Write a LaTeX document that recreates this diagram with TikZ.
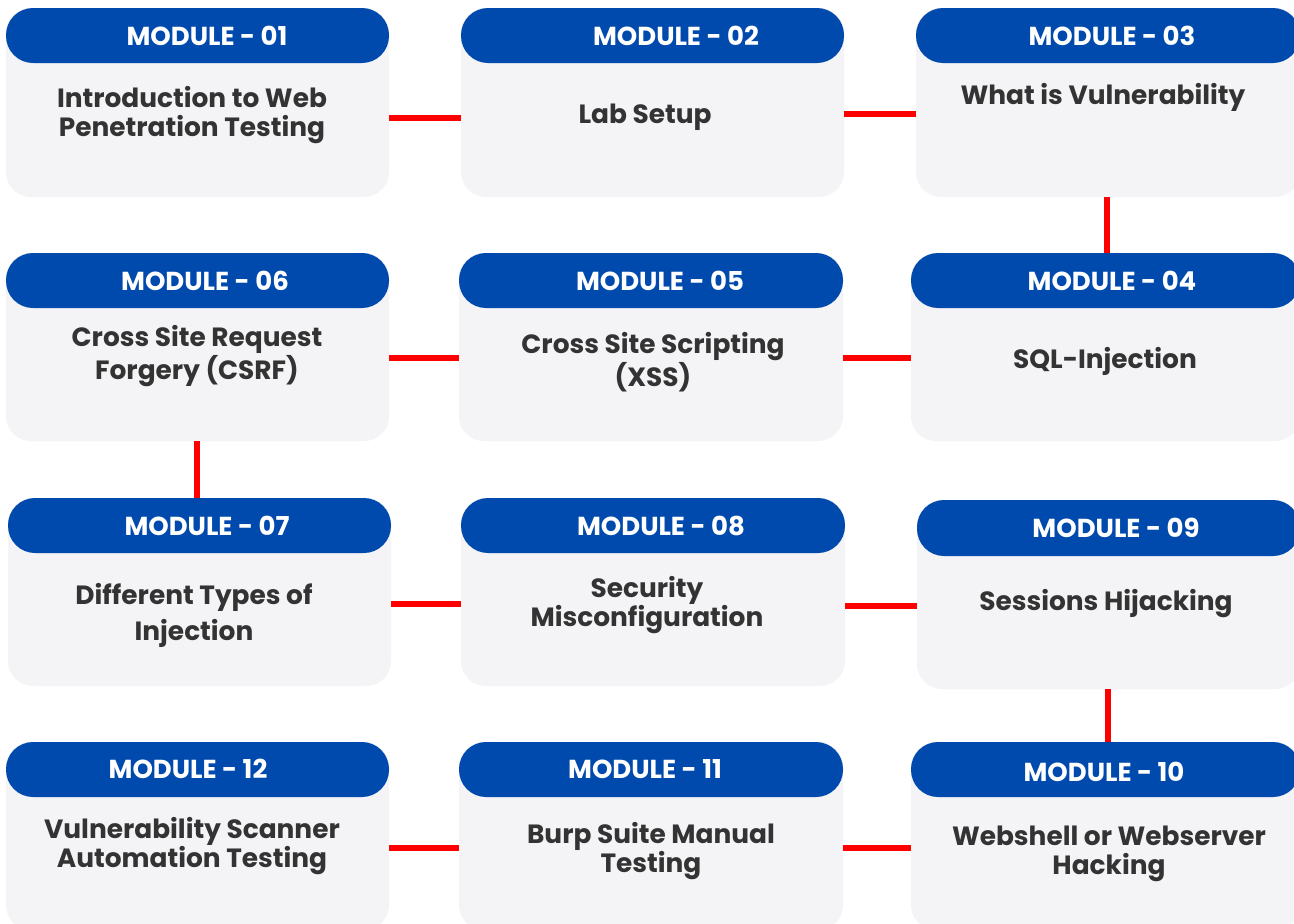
\documentclass[tikz,border=0pt]{standalone}
\usepackage{fontspec}
\setmainfont{Poppins}[BoldFont={* Bold}]
\setsansfont{Poppins}
\definecolor{hblue}{HTML}{004AAD}
\definecolor{bodyfill}{HTML}{F4F3F6}
\definecolor{txt}{HTML}{333333}
\definecolor{link}{HTML}{FF0000}
\begin{document}
\begin{tikzpicture}[x=1pt,y=-1pt,
  bodybox/.style={fill=bodyfill, rounded corners=25pt, inner sep=0pt, draw=none},
  headbox/.style={fill=hblue, rounded corners=27pt, inner sep=0pt, draw=none, minimum height=55pt},
  title/.style={text=white, font=\fontsize{26}{29}\selectfont\bfseries, inner sep=0pt},
  bodytext/.style={text=txt, font=\fontsize{26.4}{29}\selectfont\bfseries, align=center, inner sep=0pt},
  linkline/.style={draw=link, line width=6pt}]
\useasboundingbox[fill=white] (0,0) rectangle (1294,924);
% bodies
\node[bodybox, minimum width=383pt, minimum height=189pt] (m1) at (197.5,102.5) {};
\node[bodybox, minimum width=383pt, minimum height=189pt] (m2) at (652.5,102.5) {};
\node[bodybox, minimum width=384pt, minimum height=189pt] (m3) at (1108,102.5) {};
\node[bodybox, minimum width=383pt, minimum height=188pt] (m6) at (197.5,347) {};
\node[bodybox, minimum width=384pt, minimum height=188pt] (m5) at (651,347) {};
\node[bodybox, minimum width=389pt, minimum height=188pt] (m4) at (1105.5,347) {};
\node[bodybox, minimum width=383pt, minimum height=188pt] (m7) at (199.5,592) {};
\node[bodybox, minimum width=384pt, minimum height=188pt] (m8) at (653,592) {};
\node[bodybox, minimum width=383pt, minimum height=189pt] (m9) at (1108.5,594.5) {};
\node[bodybox, minimum width=383pt, minimum height=188pt] (m12) at (197.5,836) {};
\node[bodybox, minimum width=384pt, minimum height=188pt] (m11) at (651,836) {};
\node[bodybox, minimum width=389pt, minimum height=188pt] (m10) at (1105.5,836) {};
% headers
\node[headbox, minimum width=383pt, anchor=north] (h1) at (m1.north) {};
\node[headbox, minimum width=383pt, anchor=north] (h2) at (m2.north) {};
\node[headbox, minimum width=384pt, anchor=north] (h3) at (m3.north) {};
\node[headbox, minimum width=383pt, anchor=north] (h6) at (m6.north) {};
\node[headbox, minimum width=384pt, anchor=north] (h5) at (m5.north) {};
\node[headbox, minimum width=389pt, anchor=north] (h4) at (m4.north) {};
\node[headbox, minimum width=383pt, anchor=north] (h7) at (m7.north) {};
\node[headbox, minimum width=384pt, anchor=north] (h8) at (m8.north) {};
\node[headbox, minimum width=383pt, anchor=north, minimum height=56pt] (h9) at (m9.north) {};
\node[headbox, minimum width=383pt, anchor=north] (h12) at (m12.north) {};
\node[headbox, minimum width=384pt, anchor=north] (h11) at (m11.north) {};
\node[headbox, minimum width=389pt, anchor=north] (h10) at (m10.north) {};
% titles
\node[title] (t1) at (207,36) {MODULE - 01};
\node[title] (t2) at (676,36) {MODULE - 02};
\node[title] (t3) at (1112,36) {MODULE - 03};
\node[title] (t6) at (205,281) {MODULE - 06};
\node[title] (t5) at (660,281) {MODULE - 05};
\node[title] (t4) at (1112,281) {MODULE - 04};
\node[title] (t7) at (207,526) {MODULE - 07};
\node[title] (t8) at (661,526) {MODULE - 08};
\node[title] (t9) at (1116,528) {MODULE - 09};
\node[title] (t12) at (188,769) {MODULE - 12};
\node[title] (t11) at (645,769) {MODULE - 11};
\node[title] (t10) at (1104,772) {MODULE - 10};
% body texts
\node[bodytext] (b1) at (192,115) {Introduction to Web\\Penetration Testing};
\node[bodytext] (b2) at (645,117) {Lab Setup};
\node[bodytext] (b3) at (1103,97) {What is Vulnerability};
\node[bodytext] (b6) at (197,356) {Cross Site Request\\Forgery (CSRF)};
\node[bodytext] (b5) at (653,362) {Cross Site Scripting\\(XSS)};
\node[bodytext] (b4) at (1105,361) {SQL-Injection};
\node[bodytext] (b7) at (194,615) {Different Types of\\[7pt]Injection};
\node[bodytext] (b8) at (647,605) {Security\\Misconfiguration};
\node[bodytext] (b9) at (1106,604) {Sessions Hijacking};
\node[bodytext] (b12) at (192,846) {Vulnerability Scanner\\Automation Testing};
\node[bodytext] (b11) at (651,851) {Burp Suite Manual\\Testing};
\node[bodytext] (b10) at (1109,854) {Webshell or Webserver\\Hacking};
% connectors
\draw[linkline] ([yshift=-15.5pt]m1.east) -- ([yshift=-15.5pt]m2.west);
\draw[linkline] ([yshift=-11.5pt]m2.east) -- ([yshift=-11.5pt]m3.west);
\draw[linkline] (m3.south -| 1107,0) -- (m4.north -| 1107,0);
\draw[linkline] ([yshift=-11pt]m6.east) -- ([yshift=-11pt]m5.west);
\draw[linkline] ([yshift=-11pt]m5.east) -- ([yshift=-11pt]m4.west);
\draw[linkline] (m6.south -| 197,0) -- (m7.north -| 197,0);
\draw[linkline] ([yshift=-12pt]m7.east) -- ([yshift=-12pt]m8.west);
\draw[linkline] ([yshift=-14pt]m8.east) -- ([yshift=-11.5pt]m9.west);
\draw[linkline] (m9.south -| 1108,0) -- (m10.north -| 1108,0);
\draw[linkline] ([yshift=-12pt]m12.east) -- ([yshift=-12pt]m11.west);
\draw[linkline] ([yshift=-12pt]m11.east) -- ([yshift=-12pt]m10.west);
\end{tikzpicture}
\end{document}
